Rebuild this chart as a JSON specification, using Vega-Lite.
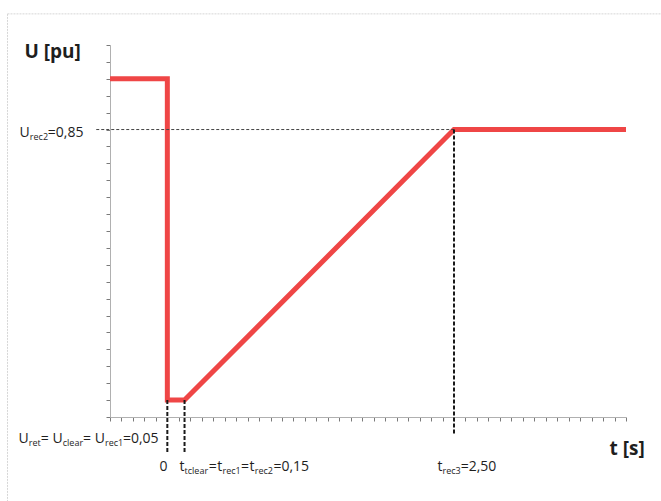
{
  "$schema": "https://vega.github.io/schema/vega-lite/v6.json",
  "autosize": {"type": "none"},
  "width": 516,
  "height": 372,
  "padding": {"left": 110, "top": 45, "right": 35, "bottom": 84},
  "background": "white",
  "config": {"view": {"stroke": null}, "font": "Open Sans"},
  "datasets": {
    "curve": [
      {"t": -0.5, "u": 1.0, "o": 0},
      {"t": 0, "u": 1.0, "o": 1},
      {"t": 0, "u": 0.05, "o": 2},
      {"t": 0.15, "u": 0.05, "o": 3},
      {"t": 2.5, "u": 0.85, "o": 4},
      {"t": 4.0, "u": 0.85, "o": 5}
    ],
    "guides": [
      {"kind": "h", "t": -0.62, "t2": 2.5, "u": 0.85, "u2": 0.85},
      {"kind": "v", "t": 0, "t2": 0, "u": 0.05, "u2": -0.105},
      {"kind": "v", "t": 0.15, "t2": 0.15, "u": 0.05, "u2": -0.105},
      {"kind": "v", "t": 2.5, "t2": 2.5, "u": 0.85, "u2": -0.05}
    ],
    "frame": [
      {"t": -1.394, "t2": 4.4, "u": 1.192, "u2": 1.192},
      {"t": -1.394, "t2": -1.394, "u": 1.192, "u2": -0.3}
    ],
    "labels": [
      {"role": "title", "text": "U [pu]", "t": -1.246, "u": 1.062},
      {"role": "title", "text": "t [s]", "t": 3.856, "u": -0.112},

      {"role": "main", "text": "U", "t": -1.289, "u": 0.828},
      {"role": "sub", "text": "rec2", "t": -1.199, "u": 0.819},
      {"role": "main", "text": "=0,85", "t": -1.042, "u": 0.828},

      {"role": "main", "text": "U", "t": -1.298, "u": -0.0769},
      {"role": "sub", "text": "ret", "t": -1.208, "u": -0.0858},
      {"role": "main", "text": "=", "t": -1.103, "u": -0.0769},
      {"role": "main", "text": "U", "t": -1.002, "u": -0.0769},
      {"role": "sub", "text": "clear", "t": -0.912, "u": -0.0858},
      {"role": "main", "text": "=", "t": -0.735, "u": -0.0769},
      {"role": "main", "text": "U", "t": -0.634, "u": -0.0769},
      {"role": "sub", "text": "rec1", "t": -0.544, "u": -0.0858},
      {"role": "main", "text": "=0,05", "t": -0.387, "u": -0.0769},

      {"role": "main", "text": "0", "t": -0.068, "u": -0.16},

      {"role": "main", "text": "t", "t": 0.106, "u": -0.16},
      {"role": "sub", "text": "tclear", "t": 0.15, "u": -0.169},
      {"role": "main", "text": "=", "t": 0.362, "u": -0.16},
      {"role": "main", "text": "t", "t": 0.436, "u": -0.16},
      {"role": "sub", "text": "rec1", "t": 0.481, "u": -0.169},
      {"role": "main", "text": "=", "t": 0.643, "u": -0.16},
      {"role": "main", "text": "t", "t": 0.717, "u": -0.16},
      {"role": "sub", "text": "rec2", "t": 0.762, "u": -0.169},
      {"role": "main", "text": "=0,15", "t": 0.925, "u": -0.16},

      {"role": "main", "text": "t", "t": 2.356, "u": -0.16},
      {"role": "sub", "text": "rec3", "t": 2.4, "u": -0.169},
      {"role": "main", "text": "=2,50", "t": 2.558, "u": -0.16}
    ]
  },
  "layer": [
    {
      "data": {"name": "curve"},
      "mark": {"type": "line", "color": "#ef4646", "strokeWidth": 5, "strokeJoin": "miter", "strokeCap": "butt", "clip": false},
      "encoding": {
        "x": {
          "field": "t", "type": "quantitative",
          "scale": {"domain": [-0.5, 4.0], "nice": false, "zero": false},
          "axis": {
            "title": null, "labels": false, "grid": false,
            "domainColor": "#b0b0b0", "domainWidth": 1,
            "tickColor": "#7a7a7a", "tickSize": 4, "tickWidth": 1,
            "tickCount": 45
          }
        },
        "y": {
          "field": "u", "type": "quantitative",
          "scale": {"domain": [0, 1.1], "nice": false, "zero": false},
          "axis": {
            "title": null, "labels": false, "grid": false,
            "domainColor": "#b0b0b0", "domainWidth": 1,
            "tickColor": "#7a7a7a", "tickSize": 4, "tickWidth": 1,
            "tickCount": 22
          }
        },
        "order": {"field": "o", "type": "quantitative"}
      }
    },
    {
      "data": {"name": "frame"},
      "mark": {"type": "rule", "color": "#d6d6d6", "strokeWidth": 1, "strokeDash": [2, 1]},
      "encoding": {
        "x": {"field": "t", "type": "quantitative"},
        "x2": {"field": "t2"},
        "y": {"field": "u", "type": "quantitative"},
        "y2": {"field": "u2"}
      }
    },
    {
      "data": {"name": "guides"},
      "transform": [{"filter": "datum.kind == 'h'"}],
      "mark": {"type": "rule", "color": "#444444", "strokeWidth": 1, "strokeDash": [3, 2]},
      "encoding": {
        "x": {"field": "t", "type": "quantitative"},
        "x2": {"field": "t2"},
        "y": {"field": "u", "type": "quantitative"},
        "y2": {"field": "u2"}
      }
    },
    {
      "data": {"name": "guides"},
      "transform": [{"filter": "datum.kind == 'v'"}],
      "mark": {"type": "rule", "color": "#1a1a1a", "strokeWidth": 2, "strokeDash": [4, 2]},
      "encoding": {
        "x": {"field": "t", "type": "quantitative"},
        "x2": {"field": "t2"},
        "y": {"field": "u", "type": "quantitative"},
        "y2": {"field": "u2"}
      }
    },
    {
      "data": {"name": "labels"},
      "transform": [{"filter": "datum.role == 'main'"}],
      "mark": {"type": "text", "align": "left", "baseline": "alphabetic", "fontSize": 14, "font": "Open Sans", "color": "#1e1e1e"},
      "encoding": {
        "x": {"field": "t", "type": "quantitative"},
        "y": {"field": "u", "type": "quantitative"},
        "text": {"field": "text"}
      }
    },
    {
      "data": {"name": "labels"},
      "transform": [{"filter": "datum.role == 'sub'"}],
      "mark": {"type": "text", "align": "left", "baseline": "alphabetic", "fontSize": 9, "font": "Open Sans", "color": "#1e1e1e"},
      "encoding": {
        "x": {"field": "t", "type": "quantitative"},
        "y": {"field": "u", "type": "quantitative"},
        "text": {"field": "text"}
      }
    },
    {
      "data": {"name": "labels"},
      "transform": [{"filter": "datum.role == 'title'"}],
      "mark": {"type": "text", "align": "left", "baseline": "alphabetic", "fontSize": 19, "fontWeight": "bold", "font": "Open Sans", "color": "#1e1e1e"},
      "encoding": {
        "x": {"field": "t", "type": "quantitative"},
        "y": {"field": "u", "type": "quantitative"},
        "text": {"field": "text"}
      }
    }
  ]
}
